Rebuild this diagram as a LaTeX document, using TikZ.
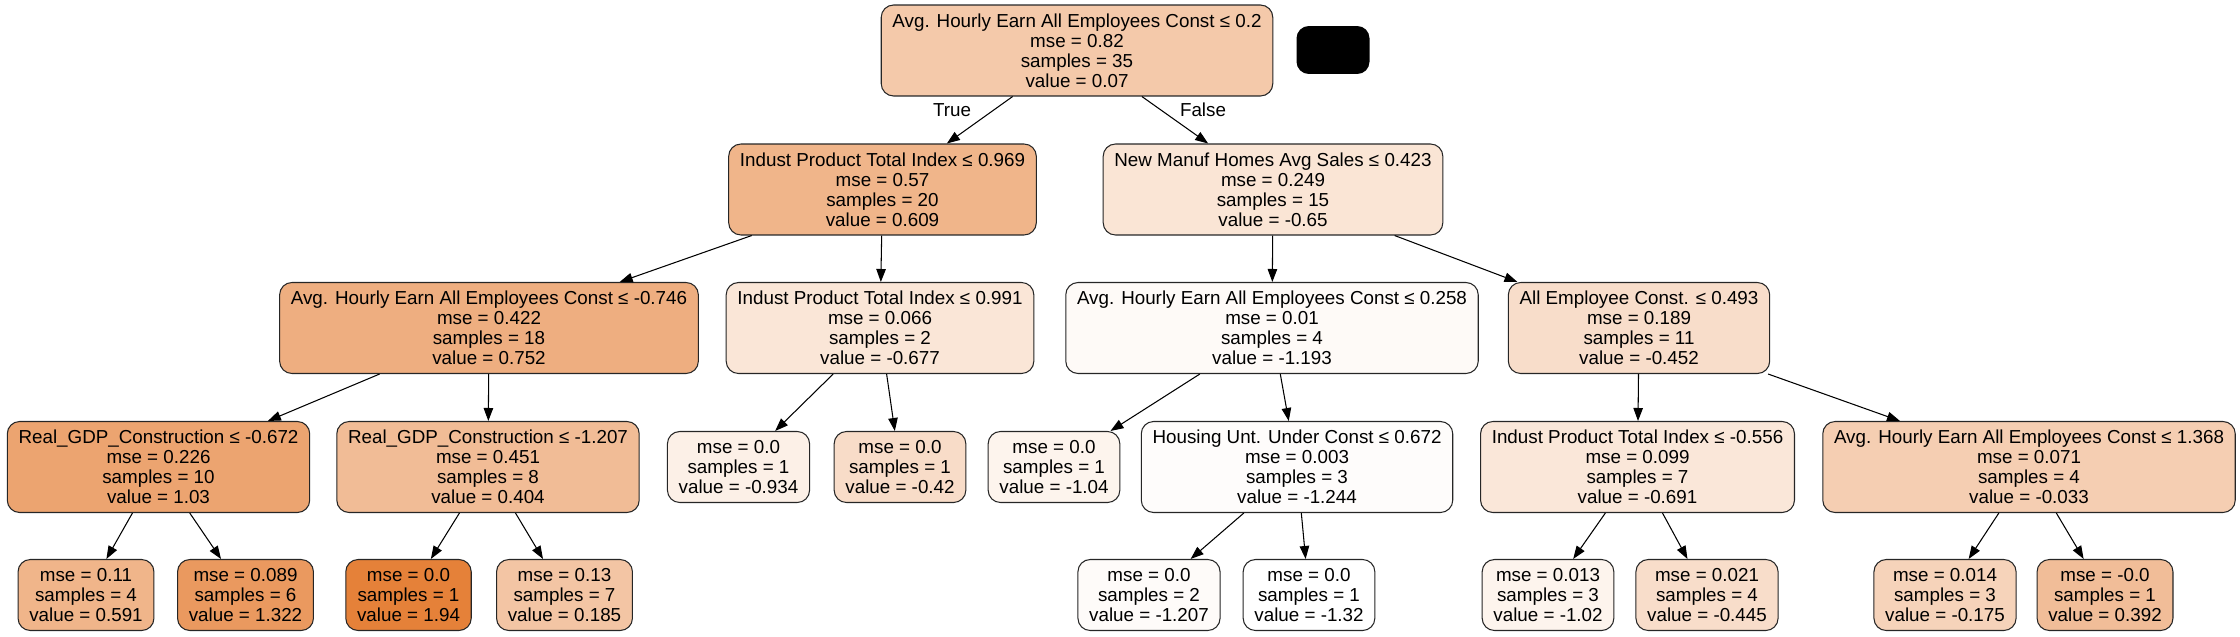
\documentclass[tikz,border=0pt]{standalone}
\usepackage{fontspec}
\setmainfont{Liberation Sans}
\usetikzlibrary{arrows.meta}
\definecolor{skorange}{RGB}{229,129,57}
\begin{document}
\begin{tikzpicture}[x=0.02cm,y=-0.02cm,
  font=\fontsize{10.7}{11.4}\selectfont,
  box/.style={draw=black!85,line width=0.6pt,rounded corners=7pt,align=center,
    inner xsep=6.4pt,inner ysep=0pt,fill=skorange!#1!white},
  split/.style={box=#1,minimum height=1.82cm},
  leaf/.style={box=#1,minimum height=1.42cm},
  edge/.style={-{Triangle[length=7.4pt,width=5.4pt]},line width=0.6pt}]
\useasboundingbox (0,0) rectangle (2240,636);
\node[split=43] (n0) at (1077,50.5) {Avg. Hourly Earn All Employees Const ≤ 0.2\\mse = 0.82\\samples = 35\\value = 0.07};
\node[fill=black,rounded corners=7pt,minimum width=1.46cm,minimum height=0.96cm] (blk) at (1333,50) {};
\node[split=59] (n1) at (882.5,189.5) {Indust Product Total Index ≤ 0.969\\mse = 0.57\\samples = 20\\value = 0.609};
\node[split=21] (n12) at (1273,189.5) {New Manuf Homes Avg Sales ≤ 0.423\\mse = 0.249\\samples = 15\\value = -0.65};
\node[split=64] (n2) at (489,328) {Avg. Hourly Earn All Employees Const ≤ -0.746\\mse = 0.422\\samples = 18\\value = 0.752};
\node[split=20] (n9) at (880,328) {Indust Product Total Index ≤ 0.991\\mse = 0.066\\samples = 2\\value = -0.677};
\node[split=4] (n13) at (1272,328) {Avg. Hourly Earn All Employees Const ≤ 0.258\\mse = 0.01\\samples = 4\\value = -1.193};
\node[split=27] (n18) at (1639,328) {All Employee Const. ≤ 0.493\\mse = 0.189\\samples = 11\\value = -0.452};
\node[split=72] (n3) at (158.5,467) {Real\_GDP\_Construction ≤ -0.672\\mse = 0.226\\samples = 10\\value = 1.03};
\node[split=53] (n6) at (488,467) {Real\_GDP\_Construction ≤ -1.207\\mse = 0.451\\samples = 8\\value = 0.404};
\node[leaf=12] (n10) at (738.5,467) {mse = 0.0\\samples = 1\\value = -0.934};
\node[leaf=28] (n11) at (900,467) {mse = 0.0\\samples = 1\\value = -0.42};
\node[leaf=9] (n14) at (1054,467) {mse = 0.0\\samples = 1\\value = -1.04};
\node[split=2] (n15) at (1297,467) {Housing Unt. Under Const ≤ 0.672\\mse = 0.003\\samples = 3\\value = -1.244};
\node[split=19] (n19) at (1637.5,467) {Indust Product Total Index ≤ -0.556\\mse = 0.099\\samples = 7\\value = -0.691};
\node[split=39] (n22) at (2029,467) {Avg. Hourly Earn All Employees Const ≤ 1.368\\mse = 0.071\\samples = 4\\value = -0.033};
\node[leaf=59] (n4) at (86,595) {mse = 0.11\\samples = 4\\value = 0.591};
\node[leaf=81] (n5) at (245.5,595) {mse = 0.089\\samples = 6\\value = 1.322};
\node[leaf=100] (n7) at (408.5,595) {mse = 0.0\\samples = 1\\value = 1.94};
\node[leaf=46] (n8) at (564.5,595) {mse = 0.13\\samples = 7\\value = 0.185};
\node[leaf=3] (n16) at (1149,595) {mse = 0.0\\samples = 2\\value = -1.207};
\node[leaf=0] (n17) at (1309,595) {mse = 0.0\\samples = 1\\value = -1.32};
\node[leaf=9] (n20) at (1548,595) {mse = 0.013\\samples = 3\\value = -1.02};
\node[leaf=27] (n21) at (1707,595) {mse = 0.021\\samples = 4\\value = -0.445};
\node[leaf=35] (n23) at (1945,595) {mse = 0.014\\samples = 3\\value = -0.175};
\node[leaf=52] (n24) at (2105,595) {mse = -0.0\\samples = 1\\value = 0.392};
\foreach \a/\b in {0/1,0/12,1/2,1/9,2/3,2/6,3/4,3/5,6/7,6/8,9/10,9/11,12/13,12/18,
  13/14,13/15,15/16,15/17,18/19,18/22,19/20,19/21,22/23,22/24}
  \draw[edge] (n\a) -- (n\b);
\node (ltrue) at (952,110) {True};
\node (lfalse) at (1203,110) {False};
\end{tikzpicture}
\end{document}
